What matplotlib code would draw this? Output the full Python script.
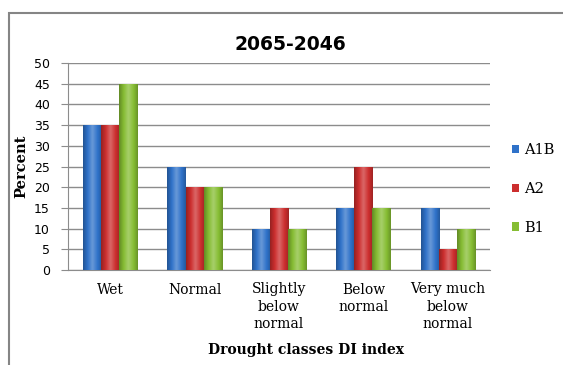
import numpy as np
import matplotlib.pyplot as plt
from matplotlib.patches import Rectangle

# Drought class shares for 2065-2046 by scenario
classes = ['Wet', 'Normal', 'Slightly\nbelow\nnormal', 'Below\nnormal', 'Very much\nbelow\nnormal']
a1b = [35, 25, 10, 15, 15]
a2 = [35, 20, 15, 25, 5]
b1 = [45, 20, 10, 15, 10]
series = [('A1B', a1b, '#2f72c9'), ('A2', a2, '#cc2e2e'), ('B1', b1, '#86bd33')]

fig = plt.figure(figsize=(5.63, 3.65), dpi=100)
# chart frame (only top and left edges fall inside the image)
fig.patches.append(Rectangle((9 / 563, -0.2), 1.0, 1.2 - 13 / 365, transform=fig.transFigure,
                             fill=False, edgecolor='#858585', linewidth=1.5))

ax = fig.add_axes([68 / 563, 95 / 365, 422 / 563, 207 / 365])
x = np.arange(len(classes))
w = 0.215


def shade(c, f):
    c = np.array(plt.matplotlib.colors.to_rgb(c))
    return np.clip(c * f if f < 1 else c + (1 - c) * (f - 1), 0, 1)


for i, (name, vals, col) in enumerate(series):
    bars = ax.bar(x + (i - 1) * w, vals, w, color=col, label=name, zorder=3)
    # horizontal gradient to give the bars a rounded look
    grad = np.array([shade(col, f) for f in np.concatenate([np.linspace(0.75, 1.25, 10), np.linspace(1.25, 0.8, 10)])])
    for b in bars:
        x0, y0 = b.get_x(), b.get_y()
        im = ax.imshow(grad[np.newaxis, :, :], extent=[x0, x0 + w, y0, y0 + b.get_height()],
                       aspect='auto', zorder=3.5, interpolation='bilinear')
        im.set_clip_path(b)

ax.set_xlim(-0.5, len(classes) - 0.5)
ax.set_ylim(0, 50)
ax.set_yticks(range(0, 51, 5))
ax.yaxis.grid(True, color='#8c8c8c', linewidth=1.0, zorder=0)
ax.set_axisbelow(True)
for s in ['top', 'right']:
    ax.spines[s].set_visible(False)
ax.spines['left'].set_color('#8c8c8c')
ax.spines['bottom'].set_color('#8c8c8c')
ax.tick_params(axis='y', length=5, color='#8c8c8c', labelsize=9, pad=8)
ax.tick_params(axis='x', length=0, pad=9)
for t in ax.get_yticklabels():
    t.set_fontfamily('DejaVu Sans')
ax.set_xticks(x)
ax.set_xticklabels(classes, fontfamily='DejaVu Serif', fontsize=10, linespacing=1.3)

ax.set_ylabel('Percent', fontfamily='DejaVu Serif', fontweight='bold', fontsize=10.5, labelpad=4)
fig.text(290 / 563, 1 - 44 / 365, '2065-2046', ha='center', va='center',
         fontfamily='DejaVu Sans', fontweight='bold', fontsize=13.5)
fig.text(306 / 563, 1 - 350 / 365, 'Drought classes DI index', ha='center', va='center',
         fontfamily='DejaVu Serif', fontweight='bold', fontsize=10)

leg = fig.legend(loc='center left', bbox_to_anchor=(499 / 563, 1 - 189 / 365), frameon=False,
                 prop={'family': 'DejaVu Serif', 'size': 10.5}, handlelength=0.5, handleheight=0.5,
                 handletextpad=0.35, labelspacing=1.7)

fig.savefig('out.png', dpi=100)
